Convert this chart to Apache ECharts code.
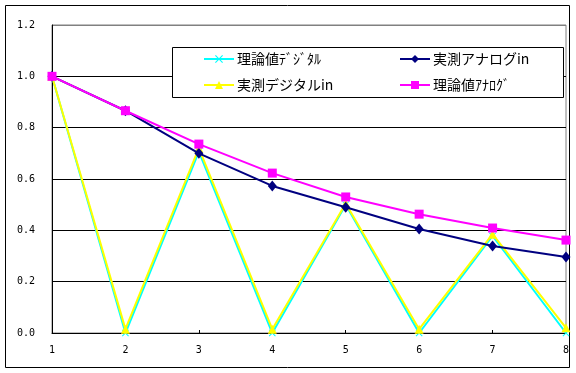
<!DOCTYPE html>
<html><head><meta charset="utf-8">
<script src="https://cdn.jsdelivr.net/npm/echarts@6/dist/echarts.min.js"></script>
<style>html,body{margin:0;padding:0;background:#fff}#c{width:576px;height:373px}</style>
</head><body><div id="c"></div>
<script>
var categories = ['1','2','3','4','5','6','7','8'];
var theoDigital = [1, 0, 0.707, 0, 0.5, 0, 0.378, 0];
var measAnalog = [1, 0.866, 0.70, 0.573, 0.49, 0.405, 0.339, 0.296];
var measDigital = [1, 0.015, 0.72, 0.015, 0.505, 0.015, 0.385, 0.02];
var theoAnalog = [1, 0.866, 0.736, 0.623, 0.53, 0.463, 0.409, 0.362];
var names = ['理論値ﾃﾞｼﾞﾀﾙ', '実測アナログin', '実測デジタルin', '理論値ｱﾅﾛｸﾞ'];

var xSym = 'path://M0,1L1,0L5,4L9,0L10,1L6,5L10,9L9,10L5,6L1,10L0,9L4,5Z';
var chart = echarts.init(document.getElementById('c'), null, {renderer:'canvas'});
function lg(name, left, top){
  return {data:[name], left:left, top:top, padding:5, itemWidth:30, itemHeight:10, itemGap:4, z:20,
    textStyle:{fontFamily:'"Noto Sans CJK JP",sans-serif', fontSize:14, color:'#000', padding:[0,0,0,-2]}};
}
chart.setOption({
  animation:false,
  backgroundColor:'#fff',
  grid:{left:52, right:10, top:25, bottom:40, show:true, borderColor:'#808080', borderWidth:1},
  graphic:[
    {type:'rect', shape:{x:5.5,y:5.5,width:564,height:362}, style:{fill:null, stroke:'#000', lineWidth:1}, z:-1},
    {type:'rect', shape:{x:172.5,y:47.5,width:391,height:50}, style:{fill:'#fff', stroke:'#000', lineWidth:1}, z:5}
  ],
  legend:[lg(names[0],198,47), lg(names[1],394,47), lg(names[2],198,73), lg(names[3],394,73)],
  xAxis:{type:'category', data:categories, boundaryGap:false,
    axisLine:{lineStyle:{color:'#000', width:1}},
    axisTick:{show:true, inside:true, length:3, lineStyle:{color:'#000'}},
    axisLabel:{fontFamily:'"DejaVu Sans Mono",monospace', fontSize:10, color:'#000', margin:12},
    splitLine:{show:false}},
  yAxis:{type:'value', min:0, max:1.2, interval:0.2,
    axisLine:{show:true, lineStyle:{color:'#000', width:1}},
    axisTick:{show:false},
    axisLabel:{fontFamily:'"DejaVu Sans Mono",monospace', fontSize:10, color:'#000', margin:17,
      formatter:function(v){return v.toFixed(1);}},
    splitLine:{show:true, lineStyle:{color:['#000','#000','#000','#000','#000','#000','#808080'], width:1}}},
  series:[
    {name:names[0], type:'line', data:theoDigital, z:2, symbol:xSym, symbolSize:7, showAllSymbol:true,
      lineStyle:{color:'#00ffff', width:2}, itemStyle:{color:'#00ffff'}},
    {name:names[1], type:'line', data:measAnalog, z:4, symbol:'diamond', symbolSize:[9,11], showAllSymbol:true,
      lineStyle:{color:'#000080', width:2}, itemStyle:{color:'#000080'}},
    {name:names[2], type:'line', data:measDigital, z:3, symbol:'triangle', symbolSize:9, showAllSymbol:true,
      lineStyle:{color:'#ffff00', width:2}, itemStyle:{color:'#ffff00'}},
    {name:names[3], type:'line', data:theoAnalog, z:5, symbol:'rect', symbolSize:9, showAllSymbol:true,
      lineStyle:{color:'#ff00ff', width:2}, itemStyle:{color:'#ff00ff'}}
  ]
});
</script></body></html>
